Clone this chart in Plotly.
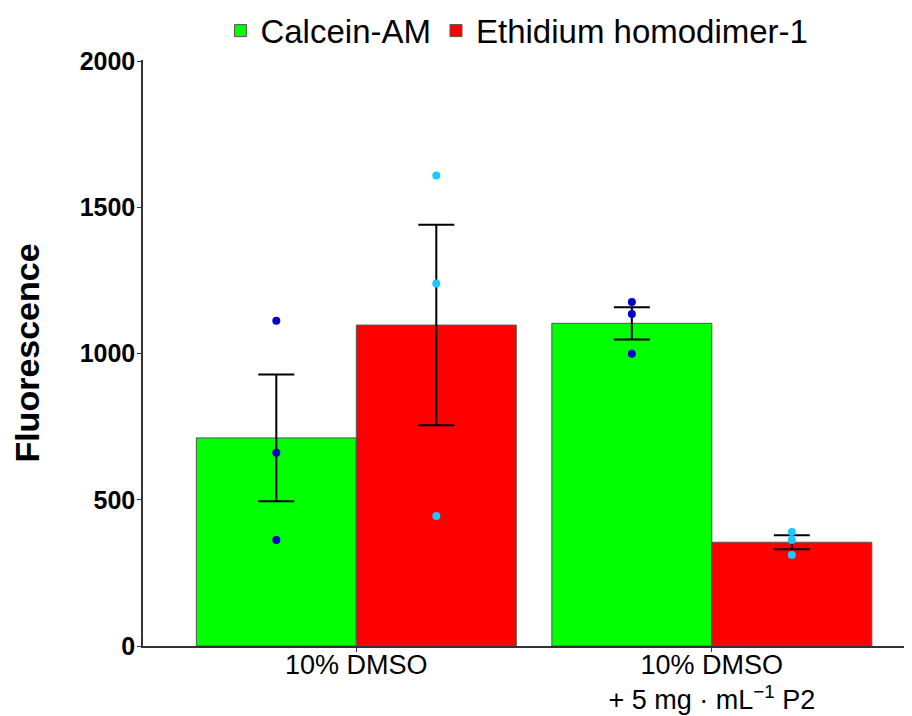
import plotly.graph_objects as go

groups = ["10% DMSO", "10% DMSO<br>+ 5 mg · mL<sup>−1</sup> P2"]
series = ["Calcein-AM", "Ethidium homodimer-1"]
means = {"Calcein-AM": [712, 1104], "Ethidium homodimer-1": [1098, 355]}
errors = {"Calcein-AM": [217, 55], "Ethidium homodimer-1": [343, 24]}
points = {
    "Calcein-AM": [[1113, 661, 363], [1177, 1136, 1000]],
    "Ethidium homodimer-1": [[1610, 1240, 445], [390, 363, 311]],
}
bar_colors = {"Calcein-AM": "#00FF00", "Ethidium homodimer-1": "#FF0000"}
dot_colors = {"Calcein-AM": "#0000CD", "Ethidium homodimer-1": "#1EC8FF"}

BAR_W = 0.45
offsets = {"Calcein-AM": -BAR_W / 2, "Ethidium homodimer-1": BAR_W / 2}
xs = list(range(len(groups)))

fig = go.Figure()
for s in series:
    fig.add_trace(go.Bar(
        name=s, x=xs, y=means[s], width=BAR_W, offset=offsets[s] - BAR_W / 2,
        marker=dict(color=bar_colors[s], line=dict(color="#555555", width=1)),
        error_y=dict(type="data", array=errors[s], color="black", thickness=2, width=18),
    ))
for s in series:
    px, py = [], []
    for i, vals in enumerate(points[s]):
        for v in vals:
            px.append(xs[i] + offsets[s])
            py.append(v)
    fig.add_trace(go.Scatter(
        x=px, y=py, mode="markers", showlegend=False,
        marker=dict(color=dot_colors[s], size=8),
    ))

fig.update_layout(
    width=904, height=708,
    paper_bgcolor="white", plot_bgcolor="white",
    margin=dict(l=135, r=0, t=52, b=70, autoexpand=False),
    font=dict(family="Liberation Sans, Arial, sans-serif", color="black"),
    barmode="overlay",
    legend=dict(
        orientation="h", xref="container", yref="container",
        x=0.235, y=0.968, xanchor="left", yanchor="middle",
        font=dict(size=33), itemwidth=30, traceorder="normal",
    ),
)
fig.update_xaxes(
    range=[-0.6, 1.563], tickvals=xs, ticktext=groups,
    showline=True, linecolor="#333333", linewidth=1.5,
    ticks="outside", ticklen=4, tickcolor="#333333",
    tickfont=dict(size=27), showgrid=False, zeroline=False, automargin=False,
    ticklabelstandoff=-10,
)
fig.update_yaxes(
    range=[0, 2005], tickvals=[0, 500, 1000, 1500, 2000],
    ticktext=["<b>0</b>", "<b>500</b>", "<b>1000</b>", "<b>1500</b>", "<b>2000</b>"],
    showline=True, linecolor="#333333", linewidth=1.5,
    ticks="outside", ticklen=4, tickcolor="#333333",
    tickfont=dict(size=25), showgrid=False, zeroline=False, automargin=False,
    ticklabelstandoff=-3,
    title=dict(text="<b>Fluorescence</b>", font=dict(size=34), standoff=30),
)
fig.write_html("out.html")
